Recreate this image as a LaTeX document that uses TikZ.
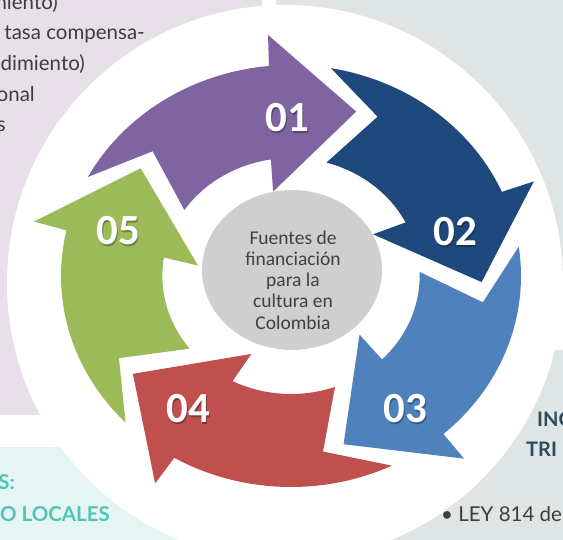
\documentclass[tikz,border=0pt]{standalone}
\usepackage{fontspec}
\setmainfont{Lato}
\newfontfamily\cfont{Carlito}
\definecolor{pinkbg}{HTML}{E8E0E9}
\definecolor{graybg}{HTML}{DFE5E5}
\definecolor{cyanbg}{HTML}{E4F5F4}
\definecolor{bodytxt}{HTML}{3D3D3D}
\definecolor{tealtxt}{HTML}{52C4B6}
\definecolor{darkteal}{HTML}{2A4B59}
\definecolor{cA}{HTML}{8064A2}
\definecolor{cB}{HTML}{1F497D}
\definecolor{cC}{HTML}{4F81BD}
\definecolor{cD}{HTML}{C0504D}
\definecolor{cE}{HTML}{9BBB59}
\definecolor{midgray}{HTML}{CFCFCF}
\definecolor{midtxt}{HTML}{404040}
\tikzset{
  sidetext/.style={font=\fontsize{20.5}{21}\selectfont, text=bodytxt, inner sep=0pt},
  headteal/.style={font=\bfseries\fontsize{20.5}{21}\selectfont, text=tealtxt, inner sep=0pt},
  headdark/.style={font=\bfseries\fontsize{20}{20}\selectfont, text=darkteal, inner sep=0pt},
  numlabel/.style={font=\cfont\bfseries\fontsize{43}{43}\selectfont, text=white, inner sep=0pt},
  numshadow/.style={font=\cfont\bfseries\fontsize{43}{43}\selectfont, text=black, opacity=0.3, inner sep=0pt},
}
\begin{document}
\begin{tikzpicture}[x=1pt,y=1pt]
\useasboundingbox (0,0) rectangle (563,540);
\clip (0,0) rectangle (563,540);
% background panels
\fill[pinkbg] (0,540) rectangle (262,125);
\fill[graybg] (276,540) rectangle (563,250);
\fill[graybg] (285,190) rectangle (563,0);
\fill[cyanbg] (0,93) rectangle (268,0);
% panel texts
\node[sidetext, anchor=base east] (t1) at (58,530) {miento)};
\node[sidetext, anchor=base east] (t2) at (145,500.5) {tasa compensa-};
\node[sidetext, anchor=base east] (t3) at (85,469) {dimiento)};
\node[sidetext, anchor=base east] (t4) at (35,438.5) {onal};
\node[sidetext, anchor=base east] (t5) at (6,408) {s};
\node[headteal, anchor=base east] (b1) at (15,50) {S:};
\node[headteal, anchor=base east] (b2) at (110,18) {O LOCALES};
\node[headdark, anchor=base west] (r1) at (537,113) {INC};
\node[headdark, anchor=base west] (r2) at (526,83) {TRI};
\node[sidetext, anchor=base west] (r3) at (441,18) {\textbullet\ LEY 814 de};
% white disc
\fill[white] (285,257) circle[radius=278];
% arrows
\begin{scope}[shift={(291,264)}, xscale=1.09]
\foreach \k/\col in {0/cA,1/cB,2/cC,3/cD,4/cE}{
  \pgfmathsetmacro\T{70-72*\k}
  \pgfmathsetmacro\Ta{\T+82}
  \pgfmathsetmacro\Tb{\T+25.5}
  \pgfmathsetmacro\Tc{\T+25}
  \pgfmathsetmacro\Td{\T+31}
  \pgfmathsetmacro\Te{\T+29}
  \pgfmathsetmacro\Tf{\T+76}
  \pgfmathsetmacro\Tg{\T+65.5}
  \fill[\col] (\Ta:211pt) arc[start angle=\Ta, end angle=\Tb, radius=211pt]
     -- (\Tc:242pt) -- (\T:175pt) -- (\Td:86pt) -- (\Te:118pt)
     arc[start angle=\Te, end angle=\Tf, radius=118pt]
     -- (\Tg:178pt) -- cycle;
}
\end{scope}
% centre
\fill[midgray] (292,270) ellipse[x radius=90, y radius=80];
\node[font=\cfont\fontsize{19.5}{21.2}\selectfont, text=midtxt, align=center, inner sep=0pt] (centre) at (293,260)
  {Fuentes de\\financiación\\para la\\cultura en\\Colombia};
% number labels
\foreach \n/\px/\py in {01/287/422, 02/455/308, 03/405/131, 04/188/131, 05/118/309}{
  \node[numshadow] (s\n) at (\px+1.5,\py-1.5) {\n};
  \node[numlabel] (n\n) at (\px,\py) {\n};
}
\end{tikzpicture}
\end{document}
